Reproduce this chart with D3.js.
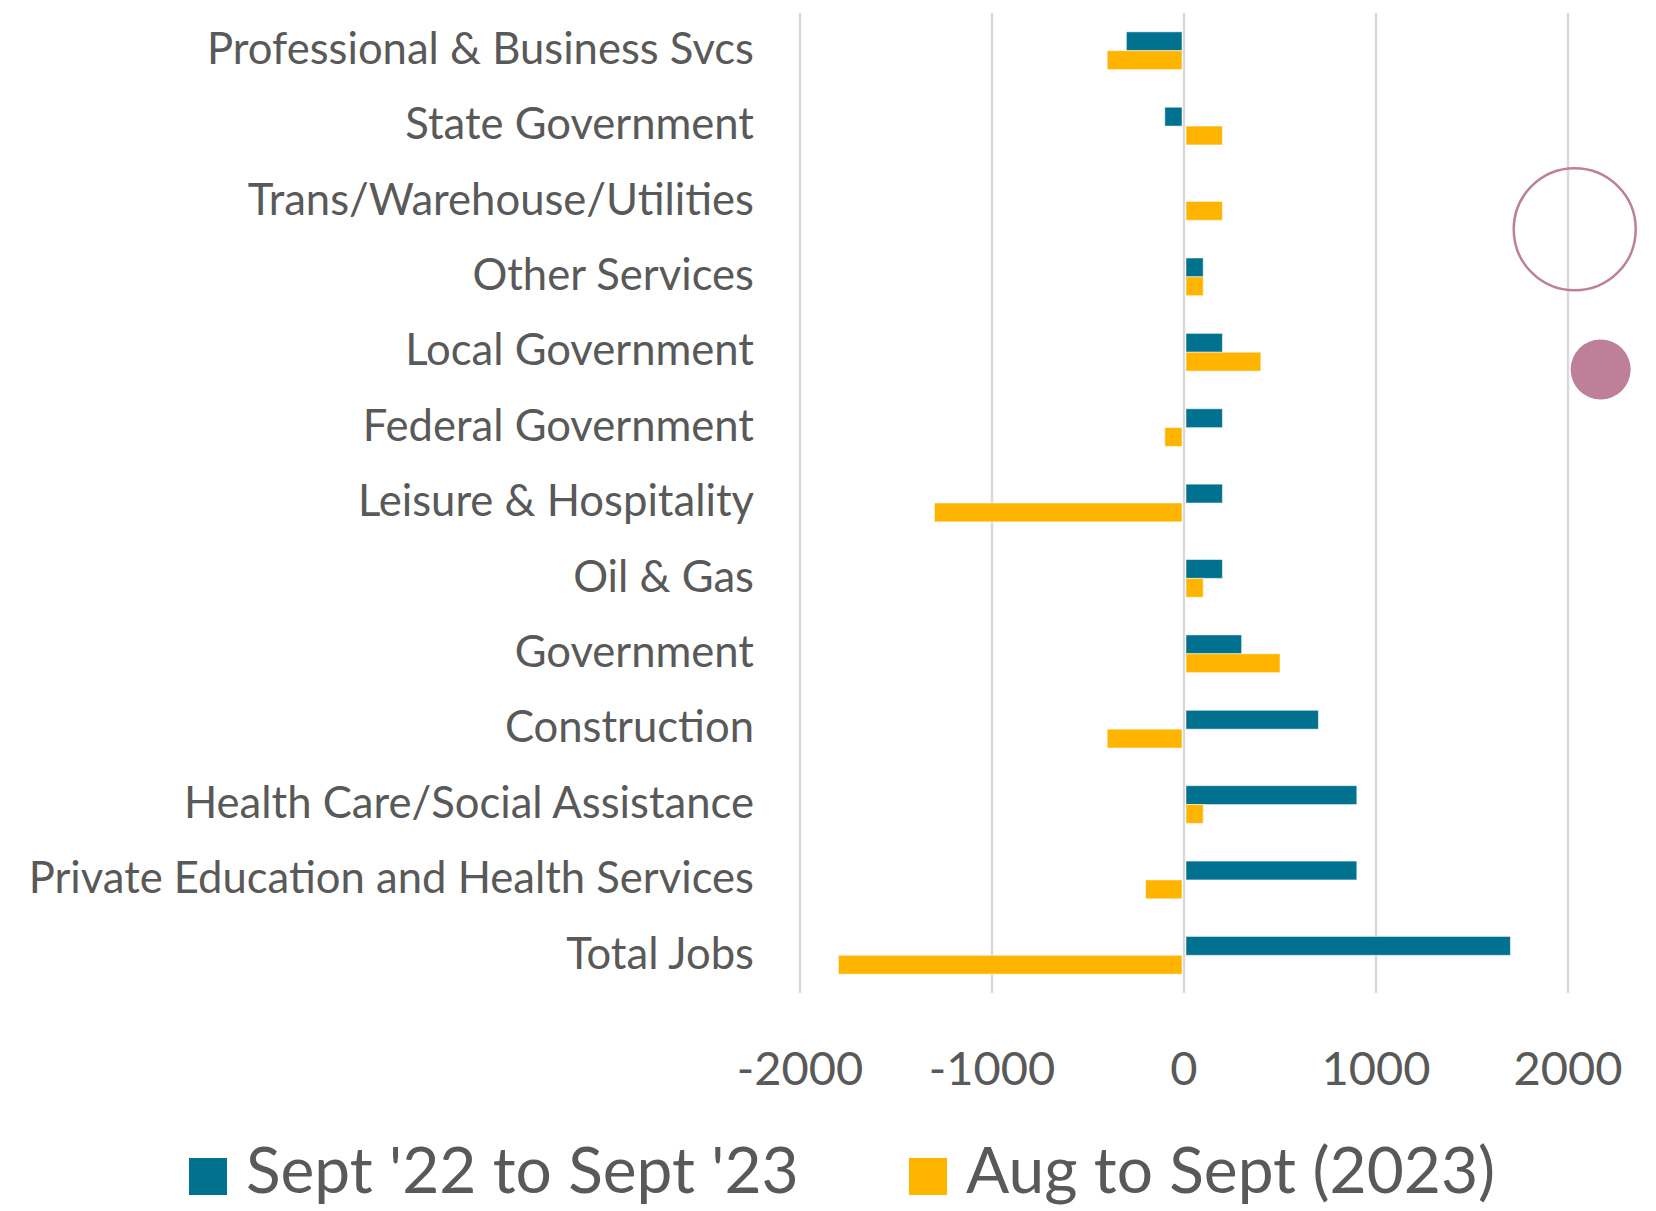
<!DOCTYPE html>
<html>
<head>
<meta charset="utf-8">
<script src="https://cdn.jsdelivr.net/npm/d3@7"></script>
<style>
  body { margin: 0; background: #fff; }
  text { font-family: Lato, "Open Sans", sans-serif; fill: #595959; }
</style>
</head>
<body>
<div id="chart"></div>
<script>
// Chart size
const width = 1656;
const height = 1211;
const margin = { top: 13, right: 88, bottom: 218, left: 800 };

// Data, top row first
const categories = [
    "Professional & Business Svcs",
    "State Government",
    "Trans/Warehouse/Utilities",
    "Other Services",
    "Local Government",
    "Federal Government",
    "Leisure & Hospitality",
    "Oil & Gas",
    "Government",
    "Construction",
    "Health Care/Social Assistance",
    "Private Education and Health Services",
    "Total Jobs"
];
const yearChange = [-300, -100, 0, 100, 200, 200, 200, 200, 300, 700, 900, 900, 1700];
const monthChange = [-400, 200, 200, 100, 400, -100, -1300, 100, 500, -400, 100, -200, -1800];
const seriesNames = ["Sept '22 to Sept '23", "Aug to Sept (2023)"];
const seriesColors = ["#007290", "#FFB400"];
const xTicks = [-2000, -1000, 0, 1000, 2000];

// Decorative circles on the right (value, row, radius, filled)
const marks = [
    { v: 2035, row: 2.87, r: 61, filled: false },
    { v: 2170, row: 4.73, r: 30, filled: true }
];

const rows = categories.map((c, i) => ({ name: c, values: [yearChange[i], monthChange[i]] }));

const svg = d3.select("#chart")
    .append("svg")
    .attr("width", width)
    .attr("height", height);

const x = d3.scaleLinear()
    .domain([-2000, 2000])
    .range([margin.left, width - margin.right]);

const y0 = d3.scaleBand()
    .domain(categories)
    .range([margin.top, height - margin.bottom]);

const y1 = d3.scaleBand()
    .domain([0, 1])
    .range([0, y0.bandwidth()])
    .paddingOuter(1);

// vertical gridlines
svg.append("g")
    .selectAll("line")
    .data(xTicks)
    .join("line")
    .attr("x1", d => x(d))
    .attr("x2", d => x(d))
    .attr("y1", margin.top)
    .attr("y2", height - margin.bottom)
    .attr("stroke", "#D9D9D9")
    .attr("stroke-width", 2.5);

// bars
svg.append("g")
    .selectAll("g")
    .data(rows)
    .join("g")
    .attr("transform", d => `translate(0,${y0(d.name)})`)
    .selectAll("rect")
    .data(d => d.values.map((v, k) => ({ v, k })))
    .join("rect")
    .attr("x", d => d.v < 0 ? x(d.v) : x(0) + 2)
    .attr("width", d => d.v === 0 ? 0 : Math.max(0, Math.abs(x(d.v) - x(0)) - 2))
    .attr("y", d => y1(d.k))
    .attr("height", y1.bandwidth())
    .attr("fill", d => seriesColors[d.k])
    .attr("stroke", "#fff")
    .attr("stroke-opacity", 0.5)
    .attr("stroke-width", 1);

// category labels
svg.append("g")
    .selectAll("text")
    .data(categories)
    .join("text")
    .attr("x", 754)
    .attr("y", d => y0(d) + y0.bandwidth() / 2 - 2)
    .attr("dy", "0.35em")
    .attr("text-anchor", "end")
    .style("font-size", "43.6px")
    .text(d => d);

// x tick labels
svg.append("g")
    .selectAll("text")
    .data(xTicks)
    .join("text")
    .attr("x", d => x(d))
    .attr("y", 1069)
    .attr("dy", "0.35em")
    .attr("text-anchor", "middle")
    .style("font-size", "47px")
    .text(d => d);

// decorative circles
svg.append("g")
    .selectAll("circle")
    .data(marks)
    .join("circle")
    .attr("cx", d => x(d.v))
    .attr("cy", d => margin.top + y0.step() * d.row)
    .attr("r", d => d.r)
    .attr("fill", d => d.filled ? "#BE8098" : "none")
    .attr("stroke", d => d.filled ? "none" : "#BE8098")
    .attr("stroke-width", 2.5);

// legend
const legendX = [189, 909];
const legend = svg.append("g")
    .selectAll("g")
    .data(seriesNames)
    .join("g")
    .attr("transform", (d, i) => `translate(${legendX[i]},1158)`);

legend.append("rect")
    .attr("width", 38)
    .attr("height", 37)
    .attr("fill", (d, i) => seriesColors[i]);

legend.append("text")
    .attr("x", 57)
    .attr("y", 13)
    .attr("dy", "0.35em")
    .style("font-size", "64px")
    .text(d => d);
</script>
</body>
</html>
